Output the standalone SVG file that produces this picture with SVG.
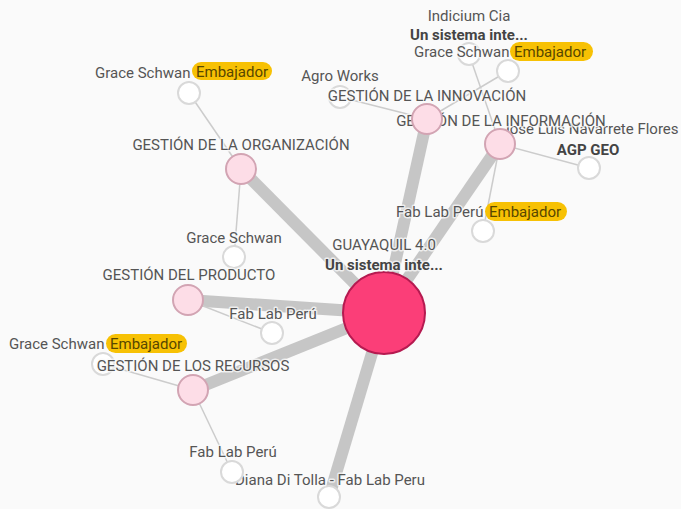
<svg xmlns="http://www.w3.org/2000/svg" width="681" height="509" viewBox="0 0 681 509">
<style>
.bg{fill:#fafafa}
.thick{stroke:#c6c6c6;stroke-width:12;fill:none}
.thin{stroke:#cccccc;stroke-width:1.5;fill:none}
.hub{fill:#fb3e78;stroke:#b51a50;stroke-width:2}
.topic{fill:#fddde7;stroke:#d2a4b3;stroke-width:2}
.leaf{fill:#ffffff;stroke:#d9d9d9;stroke-width:2}
text{font-family:Roboto,"Liberation Sans",sans-serif;font-size:15px;fill:#555555;paint-order:stroke;stroke:#fafafa;stroke-opacity:0.75;stroke-width:3px;stroke-linejoin:round}
.c{text-anchor:middle}
.b{font-weight:bold;fill:#444444}
.badge{fill:#f7c104}
.bt{fill:#574700;stroke:none}
</style>
<rect class="bg" x="0" y="0" width="681" height="509"/>
<g id="connectors">
<line class="thick" x1="384" y1="313" x2="241" y2="169"/>
<line class="thick" x1="384" y1="313" x2="188" y2="300"/>
<line class="thick" x1="384" y1="313" x2="193" y2="390"/>
<line class="thick" x1="384" y1="313" x2="329" y2="497"/>
<line class="thick" x1="384" y1="313" x2="427" y2="119"/>
<line class="thick" x1="384" y1="313" x2="500" y2="144"/>
<line class="thin" x1="241" y1="169" x2="189" y2="93"/>
<line class="thin" x1="241" y1="169" x2="234" y2="257"/>
<line class="thin" x1="188" y1="300" x2="272" y2="333"/>
<line class="thin" x1="193" y1="390" x2="103" y2="364"/>
<line class="thin" x1="193" y1="390" x2="232" y2="472"/>
<line class="thin" x1="427" y1="119" x2="340" y2="97"/>
<line class="thin" x1="427" y1="119" x2="508" y2="71"/>
<line class="thin" x1="500" y1="144" x2="469" y2="54"/>
<line class="thin" x1="500" y1="144" x2="589" y2="168"/>
<line class="thin" x1="500" y1="144" x2="483" y2="231"/>
</g>
<g id="n-grace-tl">
<circle class="leaf" cx="189" cy="93" r="11"/>
<text x="95" y="78">Grace Schwan</text>
<rect class="badge" x="192" y="62" width="80" height="18" rx="9"/>
<text class="bt" x="196" y="77">Embajador</text>
</g>
<g id="n-organizacion">
<circle class="topic" cx="241" cy="169" r="15"/>
<text class="c" x="241" y="150">GESTIÓN DE LA ORGANIZACIÓN</text>
</g>
<g id="n-grace-mid">
<circle class="leaf" cx="234" cy="257" r="11"/>
<text class="c" x="234" y="243">Grace Schwan</text>
</g>
<g id="n-fablab-prod">
<circle class="leaf" cx="272" cy="333" r="11"/>
<text class="c" x="273" y="319">Fab Lab Perú</text>
</g>
<g id="n-producto">
<circle class="topic" cx="188" cy="300" r="15"/>
<text class="c" x="189" y="280">GESTIÓN DEL PRODUCTO</text>
</g>
<g id="n-grace-left">
<circle class="leaf" cx="103" cy="364" r="11"/>
<text x="9" y="349">Grace Schwan</text>
<rect class="badge" x="106" y="334" width="81" height="19" rx="9.5"/>
<text class="bt" x="110" y="349">Embajador</text>
</g>
<g id="n-recursos">
<circle class="topic" cx="193" cy="390" r="15"/>
<text class="c" x="193" y="371">GESTIÓN DE LOS RECURSOS</text>
</g>
<g id="n-diana">
<circle class="leaf" cx="329" cy="497" r="11"/>
<text class="c" x="330" y="485">Diana Di Tolla - Fab Lab Peru</text>
</g>
<g id="n-fablab-bottom">
<circle class="leaf" cx="232" cy="472" r="11"/>
<text class="c" x="233" y="457">Fab Lab Perú</text>
</g>
<g id="n-agro">
<circle class="leaf" cx="340" cy="97" r="11"/>
<text class="c" x="340" y="81">Agro Works</text>
</g>
<g id="n-indicium">
<circle class="leaf" cx="469" cy="54" r="11"/>
<text class="c" x="469" y="21">Indicium Cia</text>
<text class="c b" x="469" y="40">Un sistema inte...</text>
</g>
<g id="n-grace-tr">
<circle class="leaf" cx="508" cy="71" r="11"/>
<text x="414" y="57">Grace Schwan</text>
<rect class="badge" x="510" y="42" width="83" height="19" rx="9.5"/>
<text class="bt" x="514" y="57">Embajador</text>
</g>
<g id="n-jose">
<circle class="leaf" cx="589" cy="168" r="11"/>
<text class="c" x="590" y="134">José Luis Navarrete Flores</text>
<text class="c b" x="588" y="155">AGP GEO</text>
</g>
<g id="n-fablab-right">
<circle class="leaf" cx="483" cy="231" r="11"/>
<text x="396" y="217">Fab Lab Perú</text>
<rect class="badge" x="485" y="202" width="82" height="19" rx="9.5"/>
<text class="bt" x="489" y="217">Embajador</text>
</g>
<g id="n-informacion">
<circle class="topic" cx="500" cy="144" r="15"/>
<text class="c" x="501" y="126">GESTIÓN DE LA INFORMACIÓN</text>
</g>
<g id="n-innovacion">
<circle class="topic" cx="427" cy="119" r="15"/>
<text class="c" x="427" y="101">GESTIÓN DE LA INNOVACIÓN</text>
</g>
<g id="n-guayaquil">
<circle class="hub" cx="384" cy="313" r="41"/>
<text class="c" x="384" y="250">GUAYAQUIL 4.0</text>
<text class="c b" x="384" y="270">Un sistema inte...</text>
</g>
</svg>
